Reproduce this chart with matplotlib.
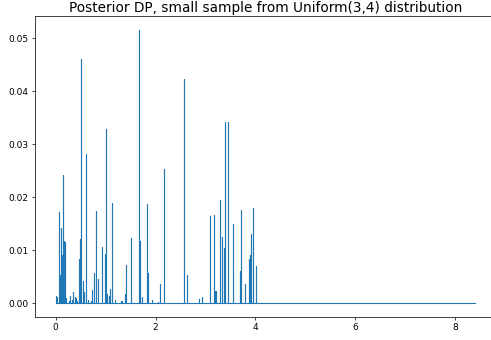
import numpy as np
import matplotlib
matplotlib.use("Agg")
import matplotlib.pyplot as plt

# Atom locations and posterior weights
atoms = [0.013, 0.03, 0.067, 0.08, 0.10, 0.12, 0.14, 0.16, 0.173, 0.187, 0.20, 0.215,
         0.26, 0.293, 0.32, 0.353, 0.38, 0.40, 0.43, 0.467, 0.493, 0.513, 0.54, 0.56,
         0.607, 0.653, 0.70, 0.733, 0.767, 0.80, 0.853, 0.927, 0.98, 1.007, 1.033,
         1.06, 1.087, 1.12, 1.18, 1.30, 1.327, 1.38, 1.407, 1.507, 1.667, 1.687,
         1.733, 1.827, 1.84, 1.933, 2.047, 2.087, 2.167, 2.58, 2.64, 2.88, 2.94,
         3.093, 3.173, 3.20, 3.22, 3.30, 3.34, 3.373, 3.40, 3.447, 3.547, 3.687,
         3.713, 3.787, 3.867, 3.887, 3.907, 3.92, 3.947, 3.96, 4.02]
weights = [0.0013, 0.0012, 0.0172, 0.0053, 0.0142, 0.0091, 0.0241, 0.0102, 0.0118,
           0.0116, 0.0010, 0.0009, 0.0003, 0.0014, 0.0006, 0.0020, 0.0011, 0.0009,
           0.0003, 0.0084, 0.0120, 0.0460, 0.0042, 0.0020, 0.0281, 0.0005, 0.0003,
           0.0024, 0.0057, 0.0173, 0.0046, 0.0105, 0.0092, 0.0329, 0.0017, 0.0014,
           0.0027, 0.0189, 0.0005, 0.0003, 0.0003, 0.0017, 0.0072, 0.0123, 0.0516,
           0.0118, 0.0011, 0.0187, 0.0057, 0.0005, 0.0002, 0.0035, 0.0253, 0.0423,
           0.0052, 0.0008, 0.0011, 0.0165, 0.0167, 0.0022, 0.0023, 0.0194, 0.0124,
           0.0103, 0.0342, 0.0342, 0.0149, 0.0060, 0.0175, 0.0035, 0.0084, 0.0091,
           0.0130, 0.0014, 0.0072, 0.0180, 0.0070]
grid_range = [0.0, 8.4]

title = "Posterior DP, small sample from Uniform(3,4) distribution"

# build a spike polyline from the atoms
xs = [grid_range[0]]
ys = [0.0]
for a, w in sorted(zip(atoms, weights)):
    xs += [a, a, a]
    ys += [0.0, w, 0.0]
xs.append(grid_range[1])
ys.append(0.0)

dpi = 65
fig = plt.figure(figsize=(491 / dpi, 340 / dpi), dpi=dpi)
ax = fig.add_axes([34.7 / 491, 1 - 316.7 / 340, (496 - 34.7) / 491, (316.7 - 16) / 340])
ax.plot(xs, ys, color="#1f77b4", linewidth=1.2)
ax.set_title(title, fontsize=15.1, pad=4)
ax.set_xticks([0, 2, 4, 6, 8])
ax.set_yticks([0.0, 0.01, 0.02, 0.03, 0.04, 0.05])
fig.savefig("out.png", dpi=dpi)
